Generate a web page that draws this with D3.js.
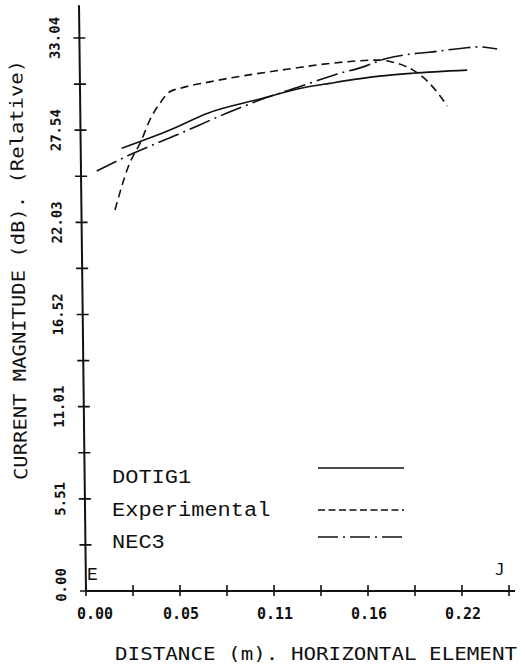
<!DOCTYPE html>
<html>
<head>
<meta charset="utf-8">
<script src="https://cdn.jsdelivr.net/npm/d3@7"></script>
<style>
  body { margin: 0; background: #fff; }
  text { fill: #111; }
</style>
</head>
<body>
<script>
var width = 525,
    height = 669;

// series: distance (m) and current magnitude (dB)
var dotigX = [0.0207, 0.0486, 0.0706, 0.1007, 0.1267, 0.1412, 0.170, 0.189, 0.221];
var dotigY = [26.45, 27.54, 28.55, 29.39, 30.08, 30.33, 30.76, 30.93, 31.12];

var expX = [0.0168, 0.0245, 0.0322, 0.037, 0.0428, 0.0486, 0.0544, 0.0718, 0.1198, 0.143, 0.170, 0.180, 0.1915, 0.1973, 0.2031, 0.2095];
var expY = [22.76, 25.35, 26.94, 28.14, 29.13, 29.83, 30.03, 30.42, 31.22, 31.54, 31.72, 31.54, 31.0, 30.52, 29.87, 28.97];

var necX = [0.0062, 0.0274, 0.0525, 0.0814, 0.1007, 0.1267, 0.1453, 0.1603, 0.173, 0.1875, 0.199, 0.2182, 0.228, 0.2384];
var necY = [25.09, 26.15, 27.24, 28.54, 29.33, 30.23, 30.88, 31.3, 31.78, 32.07, 32.19, 32.43, 32.51, 32.38];

var seriesNames = ["DOTIG1", "Experimental", "NEC3"];

var xTickValues = [0, 0.0545, 0.109, 0.1635, 0.218];
var xTickLabels = ["0.00", "0.05", "0.11", "0.16", "0.22"];
var yTickLabels = ["0.00", "5.51", "11.01", "16.52", "22.03", "27.54", "33.04"];

var xMinorStep = 0.02725,
    yMinorStep = 33.04 / 12;

var x = d3.scaleLinear().domain([0, 0.24525]).range([86, 509]);
var y = d3.scaleLinear().domain([0, 33.04]).range([591, 38]);

var svg = d3.select("body").append("svg")
    .attr("width", width)
    .attr("height", height);

// y axis is drawn a little slanted, like the plotter output
var yAxisG = svg.append("g")
    .attr("transform", "translate(86,591) skewX(0.684) translate(0,-591)");

yAxisG.append("line")
    .attr("x1", 0).attr("x2", 0)
    .attr("y1", y(0)).attr("y2", y(35.0))
    .attr("stroke", "#111")
    .attr("stroke-width", 2);

yAxisG.selectAll("line.ytick")
    .data(d3.range(0, 13))
    .enter().append("line")
      .attr("class", "ytick")
      .attr("x1", -6).attr("x2", 6)
      .attr("y1", function(d) { return y(d * yMinorStep); })
      .attr("y2", function(d) { return y(d * yMinorStep); })
      .attr("stroke", "#111")
      .attr("stroke-width", 1.6);

yAxisG.selectAll("text.ylab")
    .data(yTickLabels)
    .enter().append("text")
      .attr("class", "ylab")
      .attr("transform", function(d, i) {
        var yy = y(i * 2 * yMinorStep) + (i == 0 ? -6 : 0);
        return "translate(-25," + yy + ") rotate(-90)";
      })
      .attr("text-anchor", "middle")
      .attr("dy", "0.36em")
      .attr("font-family", "DejaVu Sans Mono")
      .attr("font-weight", "bold")
      .attr("font-size", 14)
      .text(function(d) { return d; });

yAxisG.append("text")
    .attr("transform", "translate(-64,270) rotate(-90)")
    .attr("text-anchor", "middle")
    .attr("dy", "0.36em")
    .attr("font-family", "DejaVu Sans Mono")
    .attr("font-size", 18)
    .attr("textLength", 420)
    .attr("lengthAdjust", "spacingAndGlyphs")
    .text("CURRENT MAGNITUDE (dB). (Relative)");

// x axis
var xAxisG = svg.append("g");

xAxisG.append("line")
    .attr("x1", x(0)).attr("x2", 515)
    .attr("y1", y(0)).attr("y2", y(0))
    .attr("stroke", "#111")
    .attr("stroke-width", 2);

xAxisG.selectAll("line.xtick")
    .data(d3.range(0, 10))
    .enter().append("line")
      .attr("class", "xtick")
      .attr("x1", function(d) { return x(d * xMinorStep); })
      .attr("x2", function(d) { return x(d * xMinorStep); })
      .attr("y1", y(0) - 6).attr("y2", y(0) + 5)
      .attr("stroke", "#111")
      .attr("stroke-width", 1.6);

xAxisG.selectAll("text.xlab")
    .data(xTickLabels)
    .enter().append("text")
      .attr("class", "xlab")
      .attr("x", function(d, i) { return x(xTickValues[i]) + (i == 0 ? 9 : 1); })
      .attr("y", 619)
      .attr("text-anchor", "middle")
      .attr("font-family", "DejaVu Sans Mono")
      .attr("font-weight", "bold")
      .attr("font-size", 15)
      .text(function(d) { return d; });

svg.append("text")
    .attr("x", 115)
    .attr("y", 660)
    .attr("font-family", "DejaVu Sans Mono")
    .attr("font-size", 18)
    .attr("textLength", 402)
    .attr("lengthAdjust", "spacingAndGlyphs")
    .text("DISTANCE (m). HORIZONTAL ELEMENT");

// end markers
svg.append("text")
    .attr("x", 87).attr("y", 580)
    .attr("font-family", "Liberation Mono")
    .attr("font-size", 18)
    .text("E");

svg.append("text")
    .attr("x", 495).attr("y", 575)
    .attr("font-family", "DejaVu Sans Mono")
    .attr("font-size", 16)
    .text("J");

// curves
var line = d3.line()
    .x(function(d) { return x(d[0]); })
    .y(function(d) { return y(d[1]); })
    .curve(d3.curveMonotoneX);

var series = [
  {name: seriesNames[0], pts: d3.zip(dotigX, dotigY), dash: null, legDash: null},
  {name: seriesNames[1], pts: d3.zip(expX, expY), dash: "8,5", legDash: "7,3.5"},
  {name: seriesNames[2], pts: d3.zip(necX, necY), dash: "22,5,2,5", legDash: "20,5,2,5"}
];

svg.selectAll("path.curve")
    .data(series)
    .enter().append("path")
      .attr("class", "curve")
      .attr("d", function(d) { return line(d.pts); })
      .attr("fill", "none")
      .attr("stroke", "#111")
      .attr("stroke-width", 1.6)
      .attr("stroke-dasharray", function(d) { return d.dash; });

// legend
var legTextY = [483, 516, 548],
    legLineY = [468, 510, 537];

var leg = svg.selectAll("g.leg")
    .data(series)
    .enter().append("g")
      .attr("class", "leg");

leg.append("text")
    .attr("x", 112)
    .attr("y", function(d, i) { return legTextY[i]; })
    .attr("font-family", "Liberation Mono")
    .attr("font-size", 20)
    .attr("textLength", function(d) { return d.name.length * 13.2; })
    .attr("lengthAdjust", "spacingAndGlyphs")
    .text(function(d) { return d.name; });

leg.append("line")
    .attr("x1", 318).attr("x2", 404)
    .attr("y1", function(d, i) { return legLineY[i]; })
    .attr("y2", function(d, i) { return legLineY[i]; })
    .attr("stroke", "#111")
    .attr("stroke-width", 1.6)
    .attr("stroke-dasharray", function(d) { return d.legDash; });
</script>
</body>
</html>
